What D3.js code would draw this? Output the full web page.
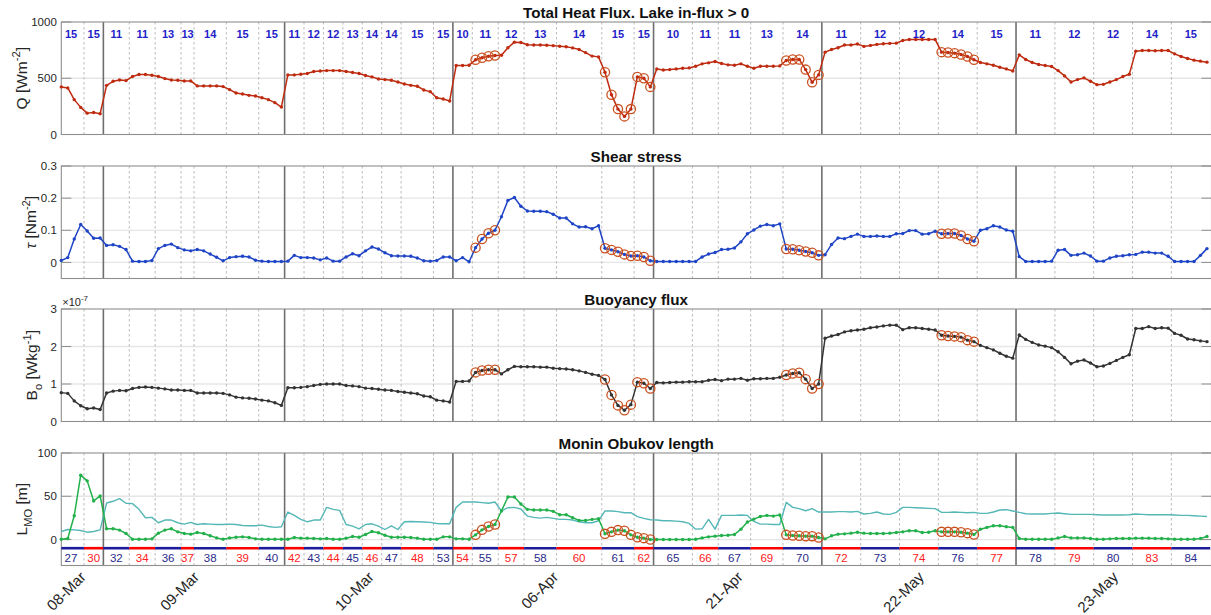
<!DOCTYPE html>
<html>
<head>
<meta charset="utf-8">
<script src="https://cdn.jsdelivr.net/npm/d3@7"></script>
<style>
  html, body { margin: 0; padding: 0; background: #fff; }
  svg { display: block; font-family: "Liberation Sans", Arial, Helvetica, sans-serif; }
</style>
</head>
<body>
<svg id="chart" width="1211" height="615"></svg>
<script>
// ---- sampling layout: 178 hourly samples from seven measurement days ----
const sampleCount = 178;
const dayLabels = ['08-Mar', '09-Mar', '10-Mar', '06-Apr', '21-Apr', '22-May', '23-May'];
const dayStarts = [0, 7, 35, 61, 92, 118, 148];

// sub-periods inside each day
const groupStarts = [0, 4, 7, 11, 15, 19, 21, 26, 31, 35, 38, 41, 44, 47, 50, 53, 58,
  61, 64, 68, 72, 77, 84, 89, 92, 98, 102, 107, 112, 118, 124, 130, 136, 142,
  148, 154, 160, 166, 172];
const groupTopLabels = [15, 15, 11, 11, 13, 13, 14, 15, 15, 11, 12, 12, 13, 14, 14, 15, 15,
  10, 11, 12, 13, 14, 15, 15, 10, 11, 11, 13, 14, 11, 12, 12, 14, 15,
  11, 12, 12, 14, 15];
const groupBottomLabels = [27, 30, 32, 34, 36, 37, 38, 39, 40, 42, 43, 44, 45, 46, 47, 48, 53,
  54, 55, 57, 58, 60, 61, 62, 65, 66, 67, 69, 70, 72, 73, 74, 76, 77,
  78, 79, 80, 83, 84];

// samples highlighted with rings in every panel
const flaggedSamples = [64, 65, 66, 67, 84, 85, 86, 87, 88, 89, 90, 91,
  112, 113, 114, 115, 116, 117, 136, 137, 138, 139, 140, 141];

// total heat flux Q [W m^-2]
const heatFlux = [
  423, 414, 310, 241, 190, 196, 185,
  437, 473, 485, 479, 515, 533, 533, 527, 515, 497, 485, 482, 476, 476, 432, 432, 432, 432, 426, 399, 369, 360, 348, 342, 327, 310, 283, 244,
  530, 530, 536, 542, 560, 565, 568, 568, 568, 560, 551, 542, 524, 512, 494, 488, 482, 467, 449, 437, 429, 396, 381, 327, 315, 298,
  613, 613, 616, 664, 682, 696, 702, 705, 771, 821, 818, 798, 796, 795, 793, 790, 785, 780, 770, 755, 728, 697, 690, 554, 354, 226, 161, 226, 512, 500, 423,
  583, 574, 577, 583, 589, 592, 607, 628, 637, 649, 631, 619, 616, 628, 607, 589, 607, 607, 607, 610, 658, 667, 667, 577, 464, 530,
  732, 756, 771, 795, 795, 804, 783, 792, 801, 807, 810, 812, 836, 845, 845, 845, 845, 845, 732, 729, 723, 711, 693, 664, 640, 628, 616, 598, 583, 565,
  708, 667, 640, 622, 613, 604, 568, 521, 467, 488, 503, 473, 443, 446, 467, 488, 515, 536, 741, 747, 747, 744, 747, 747, 717, 693, 676, 661, 652, 643
];

// shear stress tau [N m^-2]
const shearStress = [
  0.006, 0.015, 0.073, 0.118, 0.098, 0.075, 0.076,
  0.053, 0.055, 0.050, 0.040, 0.004, 0.003, 0.003, 0.006, 0.043, 0.053, 0.057, 0.046, 0.039, 0.036, 0.040, 0.036, 0.026, 0.016, 0.005, 0.015, 0.018, 0.019, 0.017, 0.007, 0.004, 0.003, 0.003, 0.003,
  0.004, 0.022, 0.015, 0.015, 0.014, 0.008, 0.014, 0.004, 0.004, 0.017, 0.027, 0.021, 0.036, 0.048, 0.042, 0.030, 0.021, 0.020, 0.020, 0.019, 0.014, 0.005, 0.004, 0.006, 0.017, 0.017,
  0.005, 0.015, 0.002, 0.046, 0.073, 0.091, 0.100, 0.142, 0.193, 0.202, 0.175, 0.160, 0.159, 0.159, 0.158, 0.150, 0.138, 0.138, 0.120, 0.110, 0.111, 0.105, 0.114, 0.044, 0.039, 0.033, 0.025, 0.020, 0.021, 0.017, 0.005,
  0.003, 0.003, 0.003, 0.003, 0.003, 0.003, 0.003, 0.017, 0.026, 0.031, 0.040, 0.041, 0.045, 0.064, 0.089, 0.101, 0.113, 0.118, 0.114, 0.120, 0.042, 0.041, 0.038, 0.034, 0.030, 0.022,
  0.024, 0.056, 0.076, 0.074, 0.081, 0.088, 0.081, 0.081, 0.082, 0.081, 0.081, 0.089, 0.090, 0.099, 0.099, 0.088, 0.089, 0.097, 0.089, 0.090, 0.090, 0.084, 0.073, 0.066, 0.100, 0.105, 0.114, 0.110, 0.101, 0.097,
  0.018, 0.003, 0.003, 0.003, 0.003, 0.004, 0.038, 0.040, 0.022, 0.024, 0.029, 0.020, 0.004, 0.004, 0.014, 0.019, 0.021, 0.024, 0.025, 0.032, 0.032, 0.029, 0.029, 0.019, 0.003, 0.003, 0.003, 0.003, 0.022, 0.043
];

// buoyancy flux B0 [x1e-7 W kg^-1]
const buoyancyFlux = [
  0.77, 0.75, 0.55, 0.42, 0.34, 0.36, 0.32,
  0.76, 0.81, 0.83, 0.82, 0.88, 0.91, 0.92, 0.91, 0.89, 0.87, 0.84, 0.84, 0.83, 0.83, 0.76, 0.76, 0.76, 0.76, 0.75, 0.71, 0.65, 0.63, 0.62, 0.60, 0.57, 0.55, 0.50, 0.43,
  0.90, 0.90, 0.91, 0.93, 0.96, 0.99, 1.00, 1.00, 1.00, 0.96, 0.95, 0.93, 0.89, 0.88, 0.86, 0.84, 0.83, 0.80, 0.78, 0.76, 0.74, 0.68, 0.66, 0.57, 0.55, 0.52,
  1.07, 1.07, 1.08, 1.31, 1.36, 1.38, 1.38, 1.27, 1.38, 1.47, 1.46, 1.46, 1.46, 1.45, 1.45, 1.42, 1.41, 1.40, 1.38, 1.35, 1.31, 1.26, 1.23, 1.12, 0.71, 0.43, 0.30, 0.45, 1.05, 1.02, 0.88,
  1.04, 1.03, 1.04, 1.05, 1.05, 1.06, 1.06, 1.06, 1.10, 1.12, 1.09, 1.13, 1.13, 1.15, 1.10, 1.14, 1.14, 1.15, 1.15, 1.18, 1.24, 1.28, 1.30, 1.13, 0.88, 1.00,
  2.22, 2.28, 2.32, 2.39, 2.42, 2.44, 2.46, 2.50, 2.52, 2.55, 2.57, 2.57, 2.45, 2.50, 2.50, 2.48, 2.46, 2.44, 2.30, 2.28, 2.27, 2.25, 2.17, 2.13, 2.03, 1.97, 1.91, 1.82, 1.74, 1.69,
  2.31, 2.19, 2.11, 2.04, 2.01, 1.97, 1.86, 1.71, 1.54, 1.61, 1.64, 1.56, 1.46, 1.48, 1.55, 1.63, 1.71, 1.78, 2.48, 2.48, 2.53, 2.48, 2.50, 2.49, 2.35, 2.30, 2.20, 2.18, 2.15, 2.13
];

// Monin-Obukhov length L_MO [m]
const moLength = [
  0.4, 1.2, 27.5, 74.4, 67.8, 44.6, 50.4,
  12.4, 12.4, 10.9, 7.0, 0.4, 0.4, 0.4, 0.8, 7.4, 10.9, 12.4, 8.9, 7.0, 6.2, 8.1, 7.0, 4.3, 1.9, 0.4, 1.9, 2.7, 3.1, 2.3, 0.8, 0.4, 0.4, 0.4, 0.4,
  0.4, 2.3, 1.6, 1.6, 1.2, 0.8, 1.2, 0.4, 0.4, 1.6, 3.5, 2.7, 5.8, 9.3, 7.8, 5.0, 2.7, 2.7, 2.7, 2.3, 1.6, 0.4, 0.4, 0.4, 3.1, 3.1,
  0.8, 0.8, 0.4, 5.4, 11.2, 15.1, 17.4, 33.0, 49.2, 49.2, 41.1, 34.9, 34.1, 34.1, 34.1, 32.6, 28.7, 28.7, 25.2, 22.1, 22.1, 23.3, 24.0, 6.6, 8.9, 10.9, 10.1, 5.4, 2.7, 1.6, 0.0,
  0.0, 0.0, 0.0, 0.0, 0.0, 0.0, 0.4, 1.9, 3.1, 3.9, 4.7, 5.0, 5.8, 12.0, 20.2, 23.6, 26.7, 27.9, 27.1, 28.3, 5.4, 4.7, 4.3, 3.9, 3.9, 2.3,
  0.8, 4.3, 6.2, 6.6, 7.4, 8.5, 7.4, 7.0, 7.0, 7.0, 7.4, 8.1, 8.9, 10.1, 10.1, 8.1, 8.5, 10.1, 8.9, 8.9, 8.9, 8.5, 7.4, 5.8, 12.0, 14.0, 15.9, 15.9, 14.7, 14.0,
  1.2, 0.4, 0.4, 0.4, 0.4, 0.4, 1.9, 3.5, 1.9, 1.9, 1.9, 1.2, 0.4, 0.4, 0.8, 1.2, 1.2, 1.2, 1.6, 1.6, 1.6, 1.2, 1.2, 0.8, 0.4, 0.4, 0.4, 0.4, 1.2, 3.5
];

// reference length scale drawn as a thin line in the same panel [m]
const moLengthRef = [
  9.3, 11.6, 11.2, 10.5, 8.5, 9.3, 11.2,
  42.2, 44.2, 47.3, 41.9, 41.5, 34.9, 25.2, 25.6, 19.4, 22.5, 22.5, 19.4, 17.8, 19.8, 17.4, 18.2, 17.8, 17.4, 17.4, 17.8, 17.4, 16.3, 15.9, 15.9, 16.7, 15.1, 14.0, 14.7,
  31.8, 27.9, 23.3, 20.5, 22.5, 22.5, 37.2, 34.9, 33.7, 17.4, 15.5, 12.4, 17.4, 18.2, 15.5, 11.6, 15.9, 11.6, 20.5, 20.9, 20.5, 20.2, 19.8, 18.6, 18.2, 18.2,
  37.2, 43.4, 43.4, 43.4, 42.6, 41.9, 43.4, 33.0, 36.8, 37.2, 35.3, 27.1, 25.6, 24.8, 25.6, 24.4, 23.3, 23.3, 22.5, 20.5, 19.4, 19.4, 21.7, 33.0, 33.0, 32.2, 31.0, 31.0, 26.4, 24.4, 22.9,
  22.5, 21.7, 21.7, 21.3, 20.5, 18.6, 12.0, 12.4, 23.3, 12.0, 27.9, 27.9, 27.9, 28.3, 27.9, 20.9, 17.8, 17.8, 17.4, 17.4, 43.0, 37.2, 35.7, 33.3, 35.7, 31.8,
  31.8, 31.8, 32.2, 32.2, 31.8, 32.6, 29.5, 30.2, 31.8, 29.5, 29.1, 31.4, 37.2, 37.2, 36.8, 36.4, 36.0, 35.7, 31.4, 31.4, 31.8, 31.4, 31.0, 31.4, 30.2, 30.2, 31.8, 34.1, 34.5, 33.0,
  31.4, 29.8, 29.5, 29.5, 29.5, 30.2, 30.6, 29.8, 29.1, 29.1, 29.1, 29.1, 28.7, 28.3, 28.3, 28.3, 28.3, 28.7, 29.5, 29.1, 28.7, 28.7, 28.7, 28.7, 28.3, 27.9, 27.9, 27.5, 27.1, 26.7
];

// ---- drawing ----
const svg = d3.select('#chart');
const left = 61.3, right = 1211.5, panelH = 112.5;
const TXT = '#262626';
const x = d3.scaleLinear().domain([0, 177.7]).range([left, right]);

svg.append('defs').append('clipPath').attr('id', 'plotClip')
  .append('rect').attr('x', left - 3).attr('y', -3).attr('width', right - left + 3).attr('height', panelH + 6);

// writes a label built from plain, superscript and subscript pieces
function richText(sel, parts, size) {
  let shift = 0;
  parts.forEach(p => {
    const target = p.sup ? -0.42 * size : p.sub ? 0.3 * size : 0;
    const ts = sel.append('tspan').text(p.t).attr('dy', target - shift)
      .attr('font-size', (p.sup || p.sub) ? size * 0.72 : size);
    if (p.italic) ts.attr('font-style', 'italic');
    shift = target;
  });
}

const panels = [
  { top: 22, title: 'Total Heat Flux. Lake in-flux > 0', domain: [0, 1000], ticks: [0, 500, 1000],
    fmt: d => String(d), flag: heatFlux, labelX: 26.5,
    label: [{ t: 'Q [Wm' }, { t: '-2', sup: true }, { t: ']' }],
    series: [{ values: heatFlux, color: '#bf2b10', width: 1.5, markers: true }] },
  { top: 166, title: 'Shear stress', domain: [-0.05, 0.3], ticks: [0, 0.1, 0.2, 0.3],
    fmt: d => d === 0 ? '0' : d.toFixed(1), flag: shearStress, labelX: 36,
    label: [{ t: '\u03c4', italic: true }, { t: ' [Nm' }, { t: '-2', sup: true }, { t: ']' }],
    series: [{ values: shearStress, color: '#1f45c6', width: 1.5, markers: true }] },
  { top: 309, title: 'Buoyancy flux', domain: [0, 3], ticks: [0, 1, 2, 3],
    fmt: d => String(d), flag: buoyancyFlux, labelX: 37,
    label: [{ t: 'B' }, { t: 'o', sub: true }, { t: ' [Wkg' }, { t: '-1', sup: true }, { t: ']' }],
    series: [{ values: buoyancyFlux, color: '#333333', width: 1.5, markers: true }] },
  { top: 453, title: 'Monin Obukov length', domain: [-30, 100], ticks: [0, 50, 100],
    fmt: d => String(d), flag: moLength, labelX: 27,
    label: [{ t: 'L' }, { t: 'MO', sub: true }, { t: ' [m]' }],
    series: [{ values: moLengthRef, color: '#56b7b7', width: 1.4, markers: false },
             { values: moLength, color: '#22b04b', width: 1.5, markers: true }] }
];

panels.forEach((p, pi) => {
  const g = svg.append('g').attr('transform', `translate(0,${p.top})`);
  const y = d3.scaleLinear().domain(p.domain).range([panelH, 0]);

  // horizontal grid
  g.selectAll('line.grid').data(p.ticks.filter(t => y(t) > 1 && y(t) < panelH - 1)).join('line')
    .attr('class', 'grid').attr('x1', left).attr('x2', right)
    .attr('y1', d => y(d)).attr('y2', d => y(d))
    .attr('stroke', '#e6e6e6').attr('stroke-width', 1.3);

  // sub-period separators
  g.selectAll('line.sep').data(groupStarts.filter(s => s > 0 && !dayStarts.includes(s))).join('line')
    .attr('class', 'sep').attr('x1', d => x(d - 0.5)).attr('x2', d => x(d - 0.5))
    .attr('y1', 0).attr('y2', panelH)
    .attr('stroke', '#b3b3b3').attr('stroke-width', 0.9).attr('stroke-dasharray', '2.5,2.5');

  // day separators
  g.selectAll('line.day').data(dayStarts.filter(s => s > 0)).join('line')
    .attr('class', 'day').attr('x1', d => x(d - 0.5)).attr('x2', d => x(d - 0.5))
    .attr('y1', 0).attr('y2', panelH)
    .attr('stroke', '#6e6e6e').attr('stroke-width', 1.6);

  // axes box
  g.append('rect').attr('x', left).attr('y', 0).attr('width', right - left).attr('height', panelH)
    .attr('fill', 'none').attr('stroke', '#8e8e8e').attr('stroke-width', 1.1);

  // y ticks on both sides, pointing inward
  g.selectAll('line.tl').data(p.ticks).join('line').attr('class', 'tl')
    .attr('x1', left).attr('x2', left + 10).attr('y1', d => y(d)).attr('y2', d => y(d))
    .attr('stroke', '#8e8e8e');
  g.selectAll('line.tr').data(p.ticks).join('line').attr('class', 'tr')
    .attr('x1', right - 10).attr('x2', right).attr('y1', d => y(d)).attr('y2', d => y(d))
    .attr('stroke', '#8e8e8e');
  g.selectAll('text.tick').data(p.ticks).join('text').attr('class', 'tick')
    .attr('x', left - 4.5).attr('y', d => y(d)).attr('dy', '0.36em')
    .attr('text-anchor', 'end').attr('font-size', 11.5).attr('fill', TXT)
    .text(p.fmt);

  // title
  g.append('text').attr('x', (left + 1211) / 2).attr('y', -4.5).attr('text-anchor', 'middle')
    .attr('font-size', 15.2).attr('font-weight', 'bold').attr('fill', '#111').text(p.title);

  // y label
  const yl = g.append('text')
    .attr('transform', `translate(${p.labelX},${panelH / 2}) rotate(-90)`)
    .attr('text-anchor', 'middle').attr('fill', TXT).attr('font-size', 15.5);
  richText(yl, p.label, 15.5);

  // data
  const plot = g.append('g').attr('clip-path', 'url(#plotClip)');
  p.series.forEach(s => {
    plot.append('path').datum(s.values)
      .attr('d', d3.line().x((d, i) => x(i)).y(d => y(d)))
      .attr('fill', 'none').attr('stroke', s.color).attr('stroke-width', s.width)
      .attr('stroke-linejoin', 'round');
    if (s.markers) {
      plot.append('g').selectAll('circle').data(s.values).join('circle')
        .attr('cx', (d, i) => x(i)).attr('cy', d => y(d)).attr('r', 1.7).attr('fill', s.color);
    }
  });
  plot.append('g').selectAll('circle').data(flaggedSamples).join('circle')
    .attr('cx', i => x(i)).attr('cy', i => y(p.flag[i])).attr('r', 4.6)
    .attr('fill', 'none').attr('stroke', '#c9501f').attr('stroke-width', 1.3);

  const groupEnd = k => (k + 1 < groupStarts.length ? groupStarts[k + 1] : sampleCount);
  const groupMid = k => x((groupStarts[k] - 0.5 + groupEnd(k) - 0.5) / 2);

  if (pi === 0) {
    g.selectAll('text.gtop').data(groupTopLabels).join('text').attr('class', 'gtop')
      .attr('x', (d, k) => groupMid(k)).attr('y', 15.5).attr('text-anchor', 'middle')
      .attr('font-size', 11).attr('font-weight', 'bold').attr('fill', '#1e22c8')
      .text(d => d);
  }

  if (pi === 3) {
    const barY = y(-10);
    g.selectAll('line.gbar').data(groupBottomLabels).join('line').attr('class', 'gbar')
      .attr('x1', (d, k) => Math.max(left, x(groupStarts[k] - 0.5)))
      .attr('x2', (d, k) => x(groupEnd(k) - 0.5))
      .attr('y1', barY).attr('y2', barY)
      .attr('stroke', (d, k) => k % 2 === 0 ? '#1c1c9c' : '#ff0000').attr('stroke-width', 2.6);
    g.selectAll('text.gbot').data(groupBottomLabels).join('text').attr('class', 'gbot')
      .attr('x', (d, k) => groupMid(k)).attr('y', 108.5).attr('text-anchor', 'middle')
      .attr('font-size', 11.5).attr('fill', (d, k) => k % 2 === 0 ? '#2a2a8c' : '#ff2020')
      .text(d => d);

    // date labels under the last panel
    const dayEnd = k => (k + 1 < dayStarts.length ? dayStarts[k + 1] : sampleCount);
    g.selectAll('text.date').data(dayLabels).join('text').attr('class', 'date')
      .attr('transform', (d, k) => {
        const xc = x(Math.max(0, (dayStarts[k] - 0.5 + dayEnd(k) - 0.5) / 2));
        return `translate(${xc + 6},${panelH + 12.5}) rotate(-45)`;
      })
      .attr('text-anchor', 'end').attr('font-size', 15).attr('fill', TXT)
      .text(d => d);
  }

  if (pi === 2) {
    const ex = g.append('text').attr('x', left + 1).attr('y', -3).attr('fill', TXT).attr('font-size', 11);
    richText(ex, [{ t: '\u00d710' }, { t: '-7', sup: true }], 11);
  }
});
</script>
</body>
</html>
